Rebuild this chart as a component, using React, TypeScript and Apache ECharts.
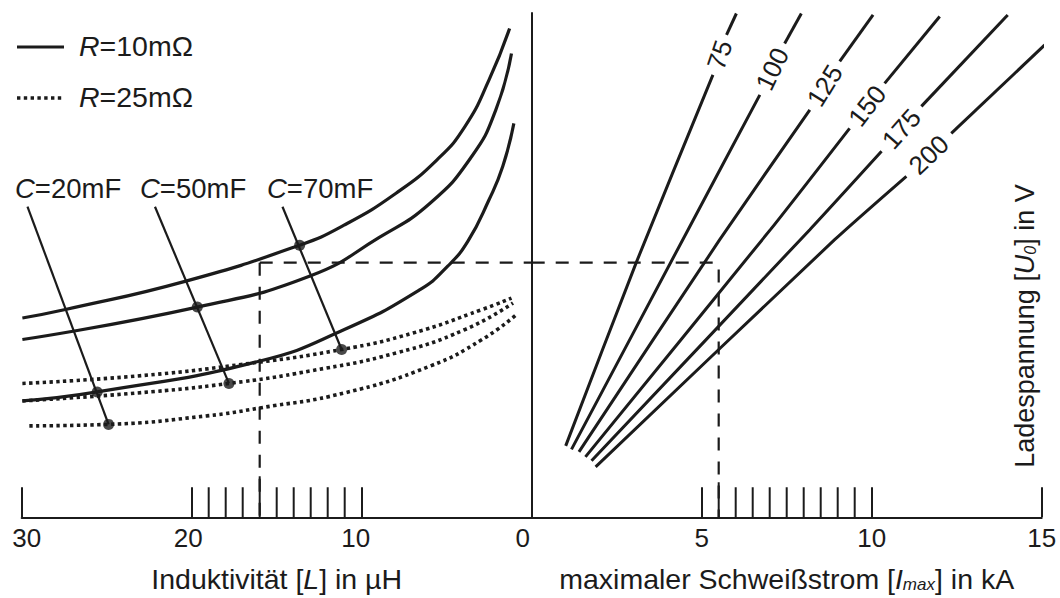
import React, { useEffect, useRef } from 'react';
import * as echarts from 'echarts';

type P = [number, number];

const INK = '#1b1b1b';
const FONT = '"Liberation Sans", Arial, Helvetica, sans-serif';

// ---- axes -------------------------------------------------------------
const leftMinorTicks = [19, 18, 17, 16, 15, 14, 13, 12, 11];
const rightMinorTicks = [5.5, 6, 6.5, 7, 7.5, 8, 8.5, 9, 9.5];
// reading example (dashed construction)
const readL = 16; // µH
const readI = 5.5; // kA
const readU = 51; // relative charge voltage
const readIHorizontalEnd = 5.35;

// ---- left panel: inductance L [µH] vs. charge voltage (relative) --------
// R = 10 mΩ (solid)
const solidC70: P[] = [[29.96, 39.9], [27.43, 41.6], [20.34, 47.3], [13.65, 54.5], [11.04, 58.5], [7.98, 64.9], [5.57, 71.6], [3.92, 78.3], [2.51, 87.6], [1.3, 97.9]];
const solidC50: P[] = [[29.96, 35.6], [19.67, 42.1], [13.04, 48.3], [8.99, 56.0], [5.98, 62.9], [3.52, 72.3], [2.11, 81.6], [1.19, 92.9]];
const solidC20: P[] = [[29.96, 23.3], [25.56, 25.1], [15.98, 31.3], [11.02, 37.6], [6.57, 45.6], [4.94, 50.3], [3.75, 55.3], [2.51, 63.6], [1.7, 70.3], [1.05, 78.9]];
// R = 25 mΩ (dotted)
const dottedC70: P[] = [[29.96, 26.8], [23.18, 28.3], [17.1, 30.6], [11.18, 33.6], [6.98, 36.9], [2.92, 41.6], [1.19, 43.9]];
const dottedC50: P[] = [[29.96, 23.3], [23.18, 24.9], [17.81, 26.8], [13.04, 29.3], [7.98, 32.9], [3.92, 37.6], [1.1, 42.9]];
const dottedC20: P[] = [[29.55, 18.3], [24.89, 18.6], [19.12, 20.3], [15.98, 21.9], [11.02, 24.9], [5.96, 30.3], [2.92, 35.6], [0.89, 40.6]];
// capacitance reference lines and their marked points
const cLine20: P[] = [[29.66, 62.2], [24.89, 18.6]];
const cLine50: P[] = [[22.16, 62.2], [17.81, 26.8]];
const cLine70: P[] = [[14.66, 62.2], [11.18, 33.6]];
const cDots: P[] = [[25.56, 25.1], [24.89, 18.6], [19.67, 42.1], [17.81, 26.8], [13.65, 54.5], [11.18, 33.6]];
const cLabels = ['20mF', '50mF', '70mF'];
const legendLabels = ['10mΩ', '25mΩ'];

// ---- right panel: max welding current [kA] vs. charge voltage ----------
const lineNames = ['75', '100', '125', '150', '175', '200'];
const u75: P[] = [[1.0, 14.3], [3.08, 51.1], [5.33, 88.6], [5.73, 96.6], [6.02, 100.9]];
const u100: P[] = [[1.17, 13.6], [4.6, 57.6], [6.71, 84.6], [7.44, 94.9], [7.93, 100.9]];
const u125: P[] = [[1.39, 13.1], [5.53, 55.6], [8.18, 81.6], [9.06, 91.3], [10.04, 100.6]];
const u150: P[] = [[1.58, 12.1], [7.02, 57.6], [9.35, 77.9], [10.38, 86.9], [12.0, 100.3]];
const u175: P[] = [[1.76, 11.3], [8.18, 57.6], [10.29, 73.3], [11.46, 82.3], [14.0, 100.6]];
const u200: P[] = [[1.88, 10.1], [8.91, 55.6], [11.02, 68.3], [12.34, 76.9], [15.09, 94.6]];
const uLines = [u75, u100, u125, u150, u175, u200];
// each line is interrupted for its label after this point index
const labelGapAfter = [2, 2, 2, 2, 2, 2];

function lineSeries(grid: number, data: P[], style: any, smooth: number | boolean = 0.5) {
  return {
    type: 'line', xAxisIndex: grid, yAxisIndex: grid, data, symbol: 'none', smooth,
    silent: true, clip: false, lineStyle: { color: INK, cap: 'butt', ...style }, z: 3,
  };
}

function tickSeries(grid: number, values: number[], marker: number, markerLen: number) {
  return {
    type: 'custom', coordinateSystem: 'cartesian2d', xAxisIndex: grid, yAxisIndex: grid,
    silent: true, clip: false, z: 5,
    data: values.map((v) => [v, 0]),
    renderItem: (_p: any, api: any) => {
      const v = api.value(0);
      const p = api.coord([v, 0]);
      const len = v === marker ? markerLen : 30;
      return { type: 'line', shape: { x1: p[0], y1: p[1], x2: p[0], y2: p[1] - len }, style: { stroke: INK, lineWidth: 2 } };
    },
  };
}

const baseText = { fontFamily: FONT, color: INK };
const italicRich = (size: number) => ({
  n: { fontSize: size, fontFamily: FONT, color: INK, fill: INK, lineHeight: size },
  i: { fontSize: size, fontFamily: FONT, color: INK, fill: INK, fontStyle: 'italic', lineHeight: size },
  s: { fontSize: Math.round(size * 0.58), fontFamily: FONT, color: INK, fill: INK, fontStyle: 'italic', lineHeight: 11, verticalAlign: 'bottom' },
});

const leftLabelRich: any = {
  o0: { ...baseText, fontSize: 26, padding: [0, 18, 0, 0] },
  o10: { ...baseText, fontSize: 26, padding: [0, 12, 0, 0] },
  o20: { ...baseText, fontSize: 26, padding: [0, 7, 0, 0] },
  o30: { ...baseText, fontSize: 26, padding: [0, 0, 0, 10] },
};

export default function App() {
  const ref = useRef<HTMLDivElement>(null);
  useEffect(() => {
    document.body.style.margin = '0';
    if (!ref.current) return;
    const chart = echarts.init(ref.current, undefined, { renderer: 'svg' });
    const dottedStyle = { width: 3.6, type: [3.4, 3.4] };
    const solidStyle = { width: 3.2, type: 'solid' };
    const dashStyle = { width: 2.2, type: [13, 11] };

    const labelMid: P[] = uLines.map((l, i) => {
      const a = l[labelGapAfter[i]];
      const b = l[labelGapAfter[i] + 1];
      return [(a[0] + b[0]) / 2, (a[1] + b[1]) / 2];
    });

    const option: any = {
      animation: false,
      backgroundColor: '#fff',
      grid: [
        { left: 21.7, width: 510, top: 13, height: 505 },
        { left: 531.7, width: 510, top: 13, height: 505 },
      ],
      xAxis: [
        {
          gridIndex: 0, type: 'value', min: 0, max: 30, interval: 10, inverse: true,
          axisLine: { show: true, onZero: false, lineStyle: { color: INK, width: 2 } },
          axisTick: { show: true, inside: true, length: 30, lineStyle: { color: INK, width: 2 } },
          axisLabel: { margin: 8, fontSize: 26, ...baseText, formatter: (v: number) => `{o${v}|${v}}`, rich: leftLabelRich },
          splitLine: { show: false },
          name: '{n|Induktivität [}{i|L}{n|] in µH}', nameLocation: 'middle', nameGap: 47,
          nameTextStyle: { fontSize: 28.5, ...baseText, rich: italicRich(28.5) },
        },
        {
          gridIndex: 1, type: 'value', min: 0, max: 15, interval: 5,
          axisLine: { show: true, onZero: false, lineStyle: { color: INK, width: 2 } },
          axisTick: { show: true, inside: true, length: 30, lineStyle: { color: INK, width: 2 } },
          axisLabel: { margin: 8, fontSize: 26, ...baseText, formatter: (v: number) => (v === 0 ? '' : String(v)) },
          splitLine: { show: false },
          name: '{n|maximaler Schweißstrom [}{i|I}{s|max}{n|] in kA}', nameLocation: 'middle', nameGap: 47,
          nameTextStyle: { fontSize: 28.5, ...baseText, rich: italicRich(28.5) },
        },
      ],
      yAxis: [
        { gridIndex: 0, type: 'value', min: 0, max: 101, show: false },
        {
          gridIndex: 1, type: 'value', min: 0, max: 101,
          axisLine: { show: true, lineStyle: { color: INK, width: 2 } },
          axisTick: { show: false }, axisLabel: { show: false }, splitLine: { show: false },
        },
      ],
      series: [
        lineSeries(0, solidC70, solidStyle),
        lineSeries(0, solidC50, solidStyle),
        lineSeries(0, solidC20, solidStyle),
        lineSeries(0, dottedC70, dottedStyle),
        lineSeries(0, dottedC50, dottedStyle),
        lineSeries(0, dottedC20, dottedStyle),
        lineSeries(0, cLine20, { width: 2.2 }, false),
        lineSeries(0, cLine50, { width: 2.2 }, false),
        lineSeries(0, cLine70, { width: 2.2 }, false),
        {
          type: 'scatter', xAxisIndex: 0, yAxisIndex: 0, data: cDots, symbolSize: 11,
          itemStyle: { color: INK }, silent: true, z: 6,
        },
        lineSeries(0, [[readL, readU], [0, readU]], dashStyle, false),
        lineSeries(0, [[readL, readU], [readL, 0]], dashStyle, false),
        lineSeries(1, [[0, readU], [readIHorizontalEnd, readU]], dashStyle, false),
        lineSeries(1, [[readI, readU - 1.4], [readI, 0]], dashStyle, false),
        ...uLines.map((l, i) => lineSeries(1, l.slice(0, labelGapAfter[i] + 1), { width: 3 }, 0.2)),
        ...uLines.map((l, i) => lineSeries(1, l.slice(labelGapAfter[i] + 1), { width: 3 }, false)),
        tickSeries(0, leftMinorTicks, readL, 41),
        tickSeries(1, rightMinorTicks, readI, 35),
        {
          id: 'lineLabels', type: 'scatter', xAxisIndex: 1, yAxisIndex: 1, symbol: 'circle', symbolSize: 1,
          itemStyle: { color: '#ffffff', opacity: 1 }, silent: true, z: 10,
          data: labelMid.map((p, i) => ({ name: lineNames[i], value: p })),
          label: {
            show: true, position: 'inside', formatter: (p: any) => p.name, fontSize: 26,
            fontFamily: FONT, color: INK, textBorderWidth: 0, textShadowBlur: 0, opacity: 1,
          },
        },
      ],
      graphic: [
        { type: 'line', shape: { x1: 17, y1: 47, x2: 64, y2: 47 }, style: { stroke: INK, lineWidth: 3 } },
        { type: 'line', shape: { x1: 17, y1: 98, x2: 64, y2: 98 }, style: { stroke: INK, lineWidth: 3.6, lineDash: [3.4, 3.4] } },
        {
          type: 'text', x: 79, y: 46,
          style: { text: `{i|R}{n|=${legendLabels[0]}}`, rich: italicRich(28.5), verticalAlign: 'middle', align: 'left', fill: INK },
        },
        {
          type: 'text', x: 79, y: 97,
          style: { text: `{i|R}{n|=${legendLabels[1]}}`, rich: italicRich(28.5), verticalAlign: 'middle', align: 'left', fill: INK },
        },
        ...cLabels.map((t, i) => ({
          type: 'text', x: [15, 140, 267][i], y: 188,
          style: { text: `{i|C}{n|=${t}}`, rich: italicRich(27.5), verticalAlign: 'middle', align: 'left', fill: INK },
        })),
        {
          type: 'text', x: 1025, y: 326, rotation: Math.PI / 2,
          style: { text: '{n|Ladespannung [}{i|U}{s|0}{n|] in V}', rich: italicRich(27), verticalAlign: 'middle', align: 'center', fill: INK },
        },
      ],
    };
    chart.setOption(option);

    // orient the line labels along the interrupted piece of their lines
    const angles = uLines.map((line, idx) => {
      const k = labelGapAfter[idx];
      const a = chart.convertToPixel({ gridIndex: 1 } as any, line[k]) as number[];
      const b = chart.convertToPixel({ gridIndex: 1 } as any, line[k + 1]) as number[];
      return (Math.atan2(a[1] - b[1], b[0] - a[0]) * 180) / Math.PI;
    });
    chart.setOption({
      series: [{
        id: 'lineLabels',
        data: labelMid.map((p, i) => ({
          name: lineNames[i], value: p,
          label: { rotate: angles[i], color: INK, textBorderWidth: 0 },
        })),
      }],
    });

    return () => chart.dispose();
  }, []);
  return <div ref={ref} style={{ width: 1060, height: 598 }} />;
}
